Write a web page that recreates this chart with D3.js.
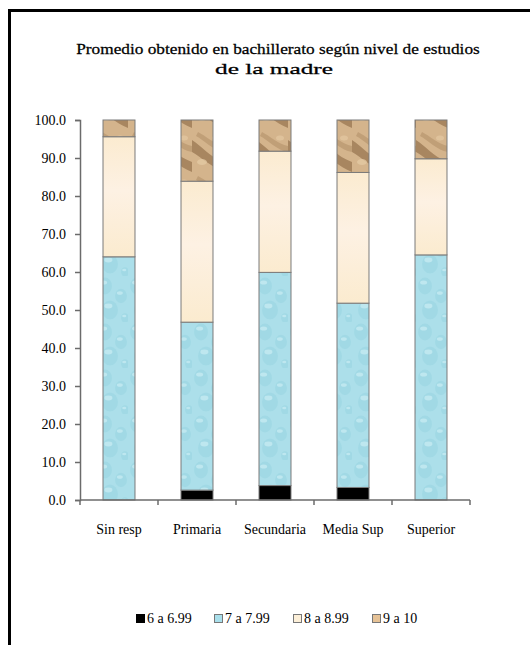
<!DOCTYPE html>
<html>
<head>
<meta charset="utf-8">
<script src="https://cdn.jsdelivr.net/npm/d3@7"></script>
<style>
  body { margin: 0; background: #fff; }
  svg { display: block; }
</style>
</head>
<body>
<div id="chart-container"></div>
<script>
const width = 530;
const height = 645;
const serif = "'Liberation Serif', 'Times New Roman', serif";

// data (percent of students per grade band)
const categories = ["Sin resp", "Primaria", "Secundaria", "Media Sup", "Superior"];
const seriesNames = ["6 a 6.99", "7 a 7.99", "8 a 8.99", "9 a 10"];
const grade6 = [0, 2.6, 3.8, 3.3, 0];
const grade7 = [64.0, 44.2, 56.1, 48.5, 64.5];
const grade8 = [31.6, 37.1, 31.9, 34.4, 25.3];
const grade9 = [4.4, 16.1, 8.2, 13.8, 10.2];
const yTicks = [0, 10, 20, 30, 40, 50, 60, 70, 80, 90, 100];
const titleLines = ["Promedio obtenido en bachillerato según nivel de estudios", "de la madre"];

const margin = { top: 120, left: 80, right: 60, bottom: 145 };

const colorPalette = {
  frame: "#000",
  axis: "#6b6b6b",
  barStroke: "#7a7a7a",
};

const table = categories.map((c, i) => ({
  cat: c,
  "6 a 6.99": grade6[i],
  "7 a 7.99": grade7[i],
  "8 a 8.99": grade8[i],
  "9 a 10": grade9[i],
}));

const svg = d3
  .select("#chart-container")
  .append("svg")
  .attr("width", width)
  .attr("height", height)
  .style("font-family", serif);

// ---- texture patterns ----
const defs = svg.append("defs");

const addPattern = (id, w, h, base, draw) => {
  const p = defs
    .append("pattern")
    .attr("id", id)
    .attr("patternUnits", "userSpaceOnUse")
    .attr("width", w)
    .attr("height", h);
  p.append("rect").attr("width", w).attr("height", h).attr("fill", base);
  draw(p);
};

// water drops
addPattern("pat-water", 32, 46, "#acdfea", (p) => {
  const drops = [
    [9, 10, 7], [25, 20, 6], [14, 34, 8], [29, 42, 4],
  ];
  drops.forEach(([cx, cy, r]) => {
    p.append("ellipse")
      .attr("cx", cx).attr("cy", cy).attr("rx", r).attr("ry", r * 1.2)
      .attr("fill", "#95d2e0").attr("opacity", 0.45);
    p.append("ellipse")
      .attr("cx", cx - r * 0.2).attr("cy", cy - r * 0.5)
      .attr("rx", r * 0.5).attr("ry", r * 0.3)
      .attr("fill", "#d4f1f7").attr("opacity", 0.55);
  });
});

// parchment
const cream = defs
  .append("linearGradient")
  .attr("id", "grad-cream")
  .attr("x1", 0).attr("y1", 0).attr("x2", 0).attr("y2", 1);
cream.append("stop").attr("offset", "0%").attr("stop-color", "#fbebd0");
cream.append("stop").attr("offset", "45%").attr("stop-color", "#fdf1e3");
cream.append("stop").attr("offset", "100%").attr("stop-color", "#fbebcf");

// sand
addPattern("pat-sand", 32, 44, "#d4b48c", (p) => {
  p.append("path")
    .attr("d", "M0,8 C10,14 16,24 32,30 L32,40 C18,34 10,26 0,20 Z")
    .attr("fill", "#8a6842").attr("opacity", 0.6);
  p.append("path")
    .attr("d", "M6,0 C14,4 22,12 32,14 L32,20 C20,18 12,8 4,4 Z")
    .attr("fill", "#a8865e").attr("opacity", 0.45);
  p.append("ellipse").attr("cx", 10).attr("cy", 30).attr("rx", 5).attr("ry", 3)
    .attr("fill", "#e6cca5").attr("opacity", 0.7);
  p.append("ellipse").attr("cx", 24).attr("cy", 6).attr("rx", 4).attr("ry", 2.5)
    .attr("fill", "#e6cca5").attr("opacity", 0.6);
});

const fills = {
  "6 a 6.99": "#000",
  "7 a 7.99": "url(#pat-water)",
  "8 a 8.99": "url(#grad-cream)",
  "9 a 10": "url(#pat-sand)",
};
const legendFills = {
  "6 a 6.99": "#000",
  "7 a 7.99": "#a9dfeb",
  "8 a 8.99": "#fcefd8",
  "9 a 10": "#e6c296",
};

// ---- frame ----
svg
  .append("rect")
  .attr("x", 9.5)
  .attr("y", 10.5)
  .attr("width", 700)
  .attr("height", 800)
  .attr("fill", "none")
  .attr("stroke", colorPalette.frame)
  .attr("stroke-width", 3);

// ---- title (stretched horizontally like the original) ----
const titleCenter = [278, 274];
const titleWidth = [404, 118];
titleLines.forEach((line, i) => {
  const t = svg
    .append("text")
    .attr("x", 0)
    .attr("y", 0)
    .attr("text-anchor", "middle")
    .attr("stroke", "#000")
    .attr("stroke-width", 0.25)
    .style("font-family", serif)
    .style("font-size", "15px")
    .text(line);
  const k = titleWidth[i] / t.node().getComputedTextLength();
  t.attr("transform", `translate(${titleCenter[i]},${54 + i * 20}) scale(${k},1)`);
});

// ---- scales ----
const x = d3
  .scaleBand()
  .domain(categories)
  .range([margin.left, width - margin.right])
  .paddingInner(0.59)
  .paddingOuter(0.295);

const y = d3
  .scaleLinear()
  .domain([0, 100])
  .range([height - margin.bottom, margin.top]);

const stack = d3.stack().keys(seriesNames);
const stacked = stack(table);

// ---- bars ----
svg
  .append("g")
  .selectAll("g")
  .data(stacked)
  .enter()
  .append("g")
  .attr("fill", (d) => fills[d.key])
  .selectAll("rect")
  .data((d) => d)
  .enter()
  .append("rect")
  .attr("x", (d) => x(d.data.cat))
  .attr("y", (d) => y(d[1]))
  .attr("width", x.bandwidth())
  .attr("height", (d) => y(d[0]) - y(d[1]))
  .attr("stroke", colorPalette.barStroke)
  .attr("stroke-width", 1);

// ---- axes ----
const yAxis = svg
  .append("g")
  .attr("transform", `translate(${margin.left},0)`)
  .call(
    d3.axisLeft(y)
      .tickValues(yTicks)
      .tickSize(5)
      .tickPadding(9)
      .tickFormat(d3.format(".1f"))
  )
  .attr("font-family", null);
yAxis.select(".domain").attr("stroke", colorPalette.axis).attr("stroke-width", 1.5);
yAxis.selectAll(".tick line").attr("stroke", colorPalette.axis).attr("stroke-width", 1.5);
yAxis
  .selectAll(".tick text")
  .style("font-family", serif)
  .style("font-size", "14px")
  .attr("fill", "#000");

// x axis with ticks on band edges
const xEdges = categories.map((c) => x(c) - (x.step() * x.paddingInner()) / 2);
xEdges.push(width - margin.right);

const xAxis = svg.append("g");
xAxis
  .append("line")
  .attr("x1", margin.left)
  .attr("x2", width - margin.right)
  .attr("y1", y(0))
  .attr("y2", y(0))
  .attr("stroke", colorPalette.axis)
  .attr("stroke-width", 1.5);
xAxis
  .selectAll(".xtick")
  .data(xEdges)
  .enter()
  .append("line")
  .attr("class", "xtick")
  .attr("x1", (d) => d)
  .attr("x2", (d) => d)
  .attr("y1", y(0))
  .attr("y2", y(0) + 5)
  .attr("stroke", colorPalette.axis)
  .attr("stroke-width", 1.5);
xAxis
  .selectAll(".xlabel")
  .data(categories)
  .enter()
  .append("text")
  .attr("class", "xlabel")
  .attr("x", (d) => x(d) + x.bandwidth() / 2)
  .attr("y", y(0) + 34)
  .attr("text-anchor", "middle")
  .style("font-family", serif)
  .style("font-size", "14px")
  .text((d) => d);

// ---- legend ----
const legendX = [136, 214, 293, 372];
const legend = svg
  .append("g")
  .selectAll("g")
  .data(seriesNames)
  .enter()
  .append("g")
  .attr("transform", (d, i) => `translate(${legendX[i]},623)`);
legend
  .append("rect")
  .attr("x", 0.5)
  .attr("y", -8.5)
  .attr("width", 8)
  .attr("height", 8)
  .attr("fill", (d) => legendFills[d])
  .attr("stroke", (d, i) => (i === 0 ? "#000" : "#777"))
  .attr("stroke-width", 1);
legend
  .append("text")
  .attr("x", 11)
  .attr("y", 0)
  .style("font-family", serif)
  .style("font-size", "14px")
  .text((d) => d);
</script>
</body>
</html>
